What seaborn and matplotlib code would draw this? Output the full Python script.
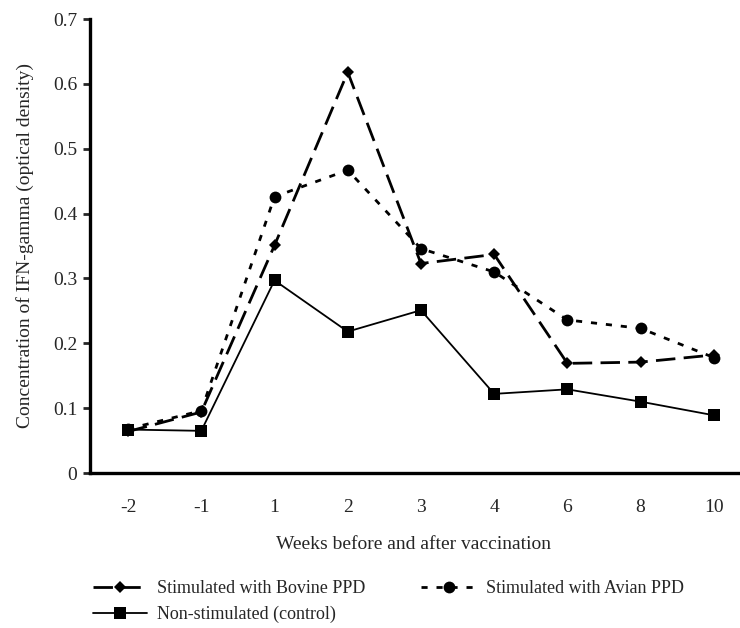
import matplotlib
matplotlib.use("Agg")
import matplotlib.pyplot as plt
import seaborn as sns
import pandas as pd
from matplotlib.lines import Line2D

weeks = ["-2", "-1", "1", "2", "3", "4", "6", "8", "10"]
bovine = [0.064, 0.094, 0.351, 0.618, 0.323, 0.337, 0.169, 0.171, 0.182]
avian = [0.068, 0.096, 0.426, 0.467, 0.346, 0.310, 0.236, 0.223, 0.178]
control = [0.067, 0.065, 0.297, 0.218, 0.251, 0.122, 0.129, 0.110, 0.089]
series_names = ["Stimulated with Bovine PPD", "Stimulated with Avian PPD", "Non-stimulated (control)"]
yticks = [0, 0.1, 0.2, 0.3, 0.4, 0.5, 0.6, 0.7]
ytick_labels = ["0", "0.1", "0.2", "0.3", "0.4", "0.5", "0.6", "0.7"]

rows = []
for name, vals in zip(series_names, [bovine, avian, control]):
    for i, (w, v) in enumerate(zip(weeks, vals)):
        rows.append({"pos": i, "week": w, "value": v, "series": name})
df = pd.DataFrame(rows)

sns.set_style("white")
plt.rcParams["font.family"] = ["Liberation Serif", "DejaVu Serif"]

fig = plt.figure(figsize=(7.4, 6.28), dpi=100)
ax = fig.add_axes([90 / 740, 1 - 473 / 628, (738 - 90) / 740, (473 - 19) / 628])

markers = {series_names[0]: "D", series_names[1]: "o", series_names[2]: "s"}
dashes = {series_names[0]: (7, 3), series_names[1]: (2.2, 3.2), series_names[2]: ""}
sns.lineplot(data=df, x="pos", y="value", style="series", style_order=series_names,
             markers=markers, dashes=dashes, color="black", markersize=8,
             markeredgewidth=0, ax=ax, legend=False)

widths = [2.0, 2.0, 1.3]
msizes = [6.5, 8.5, 9]
for line, lw, ms in zip(ax.lines, widths, msizes):
    line.set_linewidth(lw)
    line.set_markersize(ms)

ax.set_xlim(-0.52, 8.33)
ax.set_ylim(0, 0.7)
ax.set_xticks(range(len(weeks)))
ax.set_xticklabels(weeks, fontsize=14)
ax.set_yticks(yticks)
ax.set_yticklabels(ytick_labels, fontsize=14)
ax.tick_params(axis="x", length=0, pad=19)
ax.tick_params(axis="y", length=5, width=2, direction="out", pad=4, left=True)
for s in ["top", "right"]:
    ax.spines[s].set_visible(False)
for s in ["left", "bottom"]:
    ax.spines[s].set_linewidth(2.4)
    ax.spines[s].set_color("black")

ax.set_xlabel("Weeks before and after vaccination", fontsize=14, labelpad=14)
ax.set_ylabel("Concentration of IFN-gamma (optical density)", fontsize=14, labelpad=14)

handles = []
for line, name in zip(ax.lines, series_names):
    h = Line2D([], [], color="black", linewidth=line.get_linewidth(),
               marker=line.get_marker(), markersize=line.get_markersize(),
               markeredgewidth=0)
    if dashes[name] != "":
        h.set_dashes(dashes[name])
    handles.append(h)

order = [0, 2, 1]
fig.legend([handles[i] for i in order], [series_names[i] for i in order],
           loc="upper left", bbox_to_anchor=(93 / 740, 1 - 580 / 628), ncol=2,
           frameon=False, fontsize=13, handlelength=3.0, handletextpad=0.55,
           columnspacing=3.1, labelspacing=0.5, borderaxespad=0, borderpad=0)

fig.savefig("out.png", dpi=100)
